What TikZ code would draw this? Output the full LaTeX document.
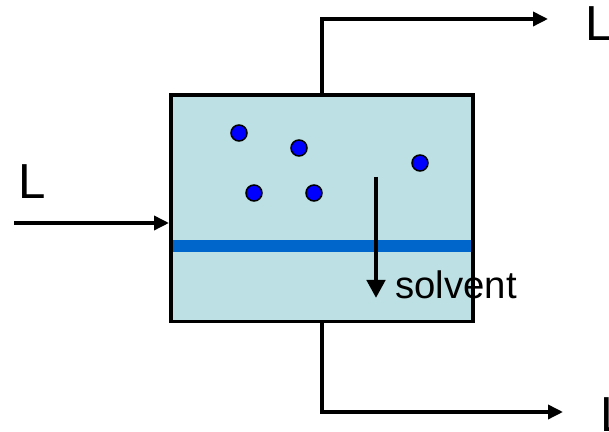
\documentclass[tikz,border=0pt]{standalone}
\usepackage{fontspec}
\setmainfont{Liberation Sans}
\usetikzlibrary{arrows.meta,positioning,calc}
\definecolor{cellfill}{RGB}{188,224,227}
\definecolor{membrane}{RGB}{0,102,204}
\definecolor{solute}{RGB}{0,0,255}

\begin{document}
\begin{tikzpicture}[
  flow/.style={line width=0.07cm,-{Triangle[length=0.3cm,width=0.28cm]}},
  particle/.style={circle,draw,fill=solute,line width=0.03cm,
                   minimum size=0.32cm,inner sep=0pt},
  biglabel/.style={font=\fontsize{28}{30}\selectfont,inner sep=0pt,anchor=base west},
  ]
  \clip (0,0) rectangle (12.18,8.64);

  %% cell and membrane
  \node[fill=cellfill,minimum width=6.04cm,minimum height=4.53cm,
        inner sep=0pt,outer sep=0pt] (cell) at (6.44,4.475) {};
  \fill[membrane] (cell.west |- 0,3.60) rectangle (cell.east |- 0,3.84);
  \draw[line width=0.07cm] (cell.south west) rectangle (cell.north east);

  %% solute particles
  \foreach \name/\pos in {p1/{(4.78,5.98)},p2/{(5.98,5.68)},p3/{(8.40,5.38)},
                          p4/{(5.08,4.78)},p5/{(6.28,4.78)}}
    \node[particle] (\name) at \pos {};

  %% solvent flux
  \coordinate (svtop) at (7.52,5.10);
  \coordinate (svtip) at (7.52,2.68);
  \draw[line width=0.09cm,-{Triangle[length=0.36cm,width=0.36cm]}] (svtop) -- (svtip);
  \node[font=\fontsize{21.8}{23}\selectfont,inner sep=0pt,anchor=base west]
        (solv) at (7.90,2.66) {solvent};

  %% streams
  \coordinate (feed) at (0.28,4.18);
  \coordinate (retent) at (10.96,8.26);
  \coordinate (perm) at (11.26,0.40);
  \draw[flow] (feed) -- ($(feed -| cell.west)+(-0.04,0)$);
  \draw[flow] (cell.north) |- (retent);
  \draw[flow] (cell.south) |- (perm);

  \node[biglabel] (lin) at (0.36,4.66) {L};
  \node[biglabel] (lout) at (11.70,7.82) {L};
  \node[biglabel] (lperm) at (12.00,0.00) {L};
\end{tikzpicture}
\end{document}
